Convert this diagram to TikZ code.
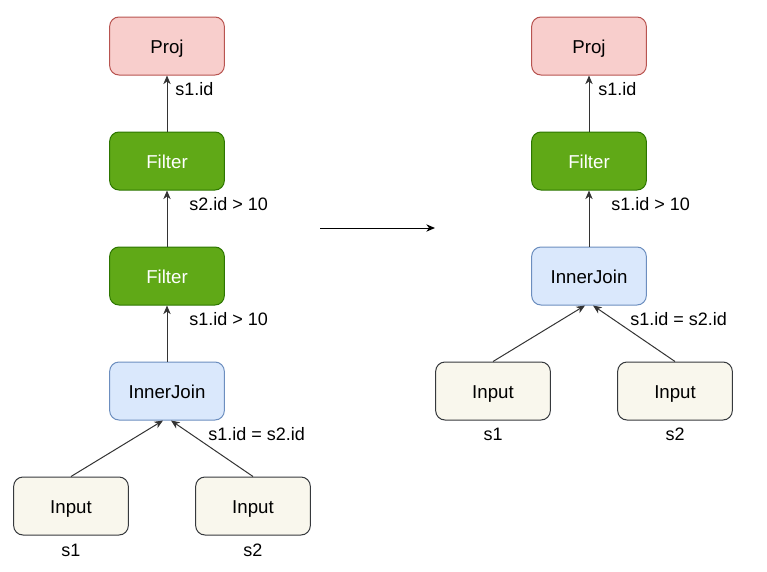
\documentclass[tikz,border=0pt]{standalone}
\usepackage{fontspec}
\setmainfont{Liberation Sans}
\usetikzlibrary{arrows.meta}

\definecolor{projfill}{HTML}{F8CECC}
\definecolor{projline}{HTML}{B85450}
\definecolor{filtfill}{HTML}{60A917}
\definecolor{filtline}{HTML}{2D7600}
\definecolor{joinfill}{HTML}{DAE8FC}
\definecolor{joinline}{HTML}{6C8EBF}
\definecolor{inpfill}{HTML}{F9F7ED}
\definecolor{inpline}{HTML}{36393D}

\tikzset{
    opbox/.style={draw, line width=0.75pt, rounded corners=7pt,
        minimum width=86pt, minimum height=43.5pt, inner sep=0pt,
        text height=13pt, text depth=2pt,
        font=\fontsize{14}{16}\selectfont},
    projbox/.style={opbox, fill=projfill, draw=projline},
    filtbox/.style={opbox, fill=filtfill, draw=filtline, text=white},
    joinbox/.style={opbox, fill=joinfill, draw=joinline},
    inpbox/.style={opbox, fill=inpfill, draw=inpline},
    lbl/.style={font=\fontsize{13.5}{16}\selectfont, inner sep=0pt,
        text height=12.5pt, text depth=2pt},
    flow/.style={line width=0.75pt, draw=black!80, -{Stealth[length=6.5pt,width=5.5pt,inset=2pt]}}
}

\begin{document}
\begin{tikzpicture}[x=0.75pt, y={(0pt,-0.75pt)}]
        \useasboundingbox (0,0) rectangle (767,571);

        % left plan
        \node[projbox] (projL) at (167,46) {Proj};
        \node[filtbox] (filtLa) at (167,161) {Filter};
        \node[filtbox] (filtLb) at (167,276) {Filter};
        \node[joinbox] (joinL) at (167,391) {InnerJoin};
        \node[inpbox] (inLa) at (71,506) {Input};
        \node[inpbox] (inLb) at (253,506) {Input};

        \draw[flow] (filtLa) -- (projL);
        \draw[flow] (filtLb) -- (filtLa);
        \draw[flow] (joinL) -- (filtLb);
        \draw[flow] (inLa.north) -- ([xshift=-3pt]joinL.south);
        \draw[flow] (inLb.north) -- ([xshift=3pt]joinL.south);

        \node[lbl, anchor=west] at (175,88) {s1.id};
        \node[lbl, anchor=west] at (189,203) {s2.id > 10};
        \node[lbl, anchor=west] at (189,318) {s1.id > 10};
        \node[lbl, anchor=west] at (208,433) {s1.id = s2.id};
        \node[lbl] at (71,549) {s1};
        \node[lbl] at (253,549) {s2};

        % rewrite arrow
        \coordinate (arrA) at (320,228);
        \coordinate (arrB) at (435,228);
        \draw[flow, draw=black] (arrA) -- (arrB);

        % right plan
        \node[projbox] (projR) at (589,46) {Proj};
        \node[filtbox] (filtR) at (589,161) {Filter};
        \node[joinbox] (joinR) at (589,276) {InnerJoin};
        \node[inpbox] (inRa) at (493,391) {Input};
        \node[inpbox] (inRb) at (675,391) {Input};

        \draw[flow] (filtR) -- (projR);
        \draw[flow] (joinR) -- (filtR);
        \draw[flow] (inRa.north) -- ([xshift=-3pt]joinR.south);
        \draw[flow] (inRb.north) -- ([xshift=3pt]joinR.south);

        \node[lbl, anchor=west] at (598,88) {s1.id};
        \node[lbl, anchor=west] at (611,203) {s1.id > 10};
        \node[lbl, anchor=west] at (630,318) {s1.id = s2.id};
        \node[lbl] at (493,433) {s1};
        \node[lbl] at (675,433) {s2};

    \end{tikzpicture}
\end{document}
